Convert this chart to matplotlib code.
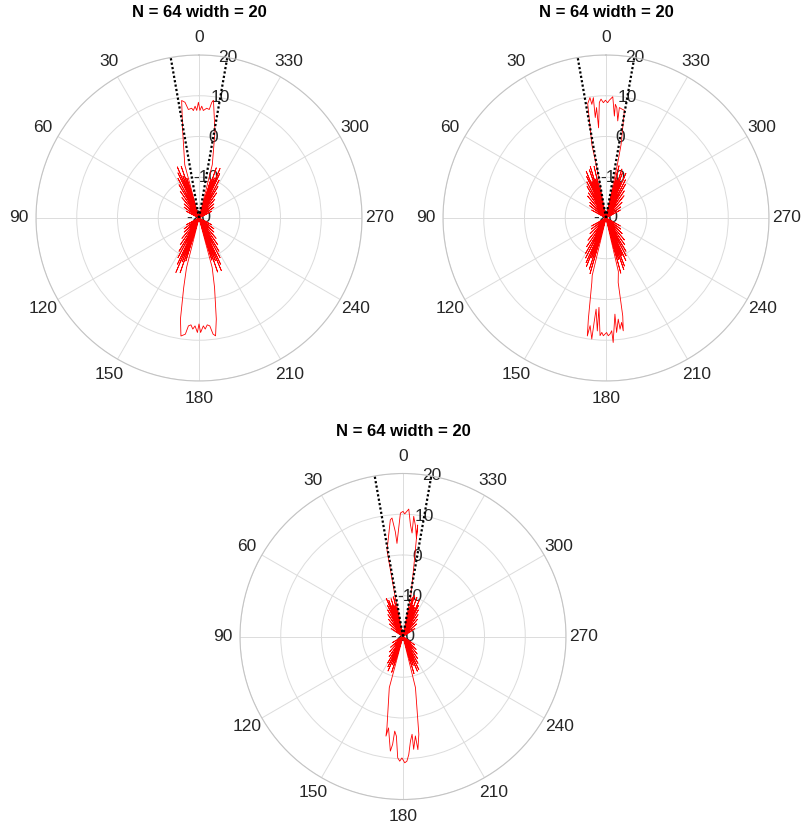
import numpy as np
import matplotlib.pyplot as plt

plt.rcParams['font.family'] = ['Liberation Sans', 'DejaVu Sans']

N_ELEM = 64
WIDTH = 20
R_TICKS = [-20, -10, 0, 10, 20]
THETA_TICKS = list(range(0, 360, 30))

# beam patterns as (angle deg, gain dB); nulls sit on the -20 dB floor
p1_front = [(-66, -20), (-62, -16.5), (-58, -20), (-54, -15.5), (-50, -20), (-46.5, -15),
            (-43, -20), (-40, -14), (-37.5, -20), (-35, -12.5), (-33, -20), (-31, -11),
            (-29.5, -20), (-28, -9.5), (-26.5, -20), (-25, -8), (-24, -20), (-23, -6.8),
            (-22, -20), (-21, -9.5), (-20, -20), (-19, -7), (-18, -20), (-17, -10),
            (-16, -20), (-14, -6.5), (-10.5, 1.5), (-7.0, 9.1), (-6.3, 8.55), (-5.4, 6.75),
            (-4.0, 7.0), (-2.3, 6.4), (-1.4, 7.45), (-0.5, 6.4), (0.3, 8.4), (1.2, 6.4),
            (2.0, 7.45), (3.0, 6.4), (3.8, 7.0), (5.6, 6.75), (6.9, 8.6), (8.4, 9.15),
            (10.7, 1.5), (15, -6.5), (16, -20), (17, -9.8), (18, -20), (19, -6.6), (20, -20),
            (21, -9), (22, -20), (23, -6.4), (24, -20), (25, -7.8), (26.5, -20), (28, -9),
            (29.5, -20), (31, -10.5), (33, -20), (35, -12), (37.5, -20), (40, -13.5),
            (43, -20), (46.5, -15), (50, -20), (54, -15.5), (58, -20), (62, -16.5), (66, -20)]
p1_back = [(114, -20), (118, -16.5), (122, -20), (126, -15.5), (130, -20), (133.5, -15),
           (137, -20), (140, -13.5), (142.5, -20), (145, -12), (147, -20), (149, -10.5),
           (150.5, -20), (152, -9), (153.5, -20), (155, -7.5), (156, -20), (157, -5.5),
           (158, -20), (159, -8.5), (160, -20), (161, -5.8), (162, -20), (163, -9), (164, -20),
           (165.9, -7.4), (167.6, -2.5), (169.6, 5.2), (171.3, 9.3), (173.3, 8.7), (174.4, 6.6),
           (175.7, 6.3), (176.8, 7.3), (177.9, 6.5), (179.2, 8.1), (180, 6.0), (180.8, 8.1),
           (182.3, 6.5), (183.2, 7.3), (184.4, 6.3), (185.7, 6.6), (186.9, 8.7), (188, 9.2),
           (189.7, 5.2), (192.6, -2.5), (194.9, -7.4), (196, -20), (197, -9.2), (198, -20),
           (199, -6), (200, -20), (201, -8.8), (202, -20), (203, -6), (204, -20), (205, -7.5),
           (206.5, -20), (208, -9), (209.5, -20), (211, -10.5), (213, -20), (215, -12),
           (217.5, -20), (220, -13.5), (223, -20), (226.5, -15), (230, -20), (234, -15.5),
           (238, -20), (242, -16.5), (246, -20)]

p2_front = [(-66, -20), (-61, -16), (-57, -20), (-53, -15.5), (-49, -20), (-45.5, -14.5),
            (-42, -20), (-39, -13), (-36.5, -20), (-34, -12), (-32, -20), (-30, -10.5),
            (-28.5, -20), (-27, -9.5), (-25.5, -20), (-24, -8), (-23, -20), (-22, -10.5),
            (-21, -20), (-20, -8.2), (-19, -20), (-18, -7.4), (-17, -20), (-16, -10.2),
            (-15, -20), (-14, -6.8), (-13, -20), (-12, -6.3), (-11.6, -1.6), (-9.7, 6.8),
            (-8.4, 7.0), (-6.9, 7.3), (-6.9, 4.0), (-5.6, 7.2), (-4.7, 8.0), (-4.7, 5.1),
            (-3.2, 9.8), (-1.6, 8.9), (-0.8, 8.3), (0.3, 8.9), (1.3, 8.3), (2.4, 9.2),
            (3.3, 8.4), (4.7, 2.2), (4.9, 7.2), (6.1, 4.8), (6.0, 9.7), (7.1, 8.1),
            (7.6, 9.8), (9.1, 8.4), (10.9, -1.7), (10.4, -6.4), (12, -20), (13, -7),
            (14, -20), (15, -10.2), (16, -20), (17, -6.8), (18, -20), (19, -7.5), (20, -20),
            (21, -10.4), (22, -20), (23, -7.6), (24, -20), (25, -8.8), (26.5, -20), (28, -10),
            (29.5, -20), (31, -11), (33, -20), (35, -12.5), (37.5, -20), (40, -13),
            (43, -20), (46, -14.5), (49.5, -20), (53, -15), (57, -20), (61, -16), (65, -20)]
p2_back = [(114, -20), (119, -16), (123, -20), (127, -15.5), (131, -20), (134.5, -14.5),
           (138, -20), (141, -13), (143.5, -20), (146, -11.5), (148, -20), (150, -10),
           (151.5, -20), (153, -9), (154.5, -20), (156, -8), (157, -20), (158, -7.2),
           (159, -20), (160, -9.6), (161, -20), (162, -6.8), (163, -20), (164, -5.8),
           (165, -20), (166.5, -5.5), (167.6, -3.8), (170.1, 5.2), (171.0, 9.3), (171.6, 6.7),
           (173.3, 9.9), (173.5, 5.8), (173.8, 2.5), (175.6, 7.8), (175.5, 2.0), (177.1, 8.9),
           (177.9, 8.1), (178.7, 8.9), (179.5, 8.5), (180.3, 8.1), (181.1, 8.9), (182.0, 8.5),
           (182.9, 7.7), (183.3, 10.6), (185.3, 3.7), (185.3, 8.2), (186.9, 5.0), (187.2, 7.5),
           (188.5, 5.9), (188.7, 8.0), (189.7, 4.4), (190.7, -3.9), (193, -6.5), (194, -20),
           (195, -6), (196, -20), (197, -9.4), (198, -20), (199, -6.6), (200, -20), (201, -7.4),
           (202, -20), (203, -10), (204, -20), (205, -8.5), (206.5, -20), (208, -9.5),
           (209.5, -20), (211, -10.5), (213, -20), (215, -12), (217.5, -20), (220, -13),
           (223, -20), (226, -14.5), (229.5, -20), (233, -15.5), (237, -20), (241, -16),
           (246, -20)]

p3_front = [(-61, -20), (-56, -16.5), (-51, -20), (-47, -15.5), (-43, -20), (-40, -14.5),
            (-37, -20), (-34.5, -13.5), (-32, -20), (-30, -12.5), (-28, -20), (-26.5, -11.5),
            (-25, -20), (-24.3, -10.2), (-22.5, -20), (-21.5, -12.4), (-20.5, -20),
            (-19.5, -9.8), (-18.5, -20), (-17.5, -12), (-16.5, -20), (-15.5, -9.6),
            (-14.5, -20), (-13.5, -10.2), (-12.5, -20), (-10.7, -9.3), (-8.8, -2.7),
            (-7.5, 7.6), (-7.8, 4.3), (-6.5, 7.2), (-5.1, 9.6), (-5.0, 5.5), (-3.8, 7.5),
            (-2.6, 11.3), (-0.8, 10.1), (0, 10.7), (1.2, 10.3), (2.3, 6.6), (3.7, 2.9),
            (4.2, 5.8), (5.3, 9.2), (6.2, 8.8), (10.5, 1.5), (11.1, -9.2), (12.5, -20),
            (13.5, -10), (14.5, -20), (15.5, -12.2), (16.5, -20), (17.5, -10.3), (18.5, -20),
            (19.5, -12), (20.5, -20), (21.5, -10.5), (22.5, -20), (23.7, -9.8), (25, -20),
            (26.5, -11.5), (28, -20), (30, -12.5), (32, -20), (34.5, -13.5), (37, -20),
            (40, -14.5), (43, -20), (47, -15.5), (51, -20), (56, -16.5), (61, -20)]
p3_back = [(114, -20), (120, -17), (126, -20), (131, -16), (135, -20), (139, -15),
           (142.5, -20), (145.5, -14), (148, -20), (150, -12.5), (152, -20), (153.5, -11.7),
           (155, -20), (156.5, -10.8), (158, -20), (159.5, -12.6), (161, -20), (162.5, -10.8),
           (164, -20), (165, -7.0), (170, 2.7), (170.3, 4.8), (171.0, 2.7), (173.7, 8.3),
           (174.5, 6.6), (175.0, 3.3), (176.2, 4.5), (177.5, 9.8), (178.5, 10.6), (179.5, 9.8),
           (180.8, 11.0), (181.8, 10.6), (182.8, 9.0), (184.1, 5.7), (185.3, 4.1), (185.4, 7.8),
           (187.1, 4.6), (187.5, 8.0), (189.2, 4.3), (193.7, -7.1), (195, -20), (196.5, -10.5),
           (198, -20), (199.5, -12.5), (201, -20), (202.5, -10.8), (204, -20), (205.5, -11),
           (207, -20), (209, -12.5), (211, -20), (213.5, -13.5), (216, -20), (219, -14.5),
           (222, -20), (225.5, -15.5), (229, -20), (234, -16.5), (240, -20), (246, -20)]

FIG_W, FIG_H = 808, 832
R_PX = 163
CENTERS = [(199, 218), (606, 218), (403, 636.5)]
PATTERNS = [(p1_front, p1_back), (p2_front, p2_back), (p3_front, p3_back)]

GRID_C = '#dcdcdc'
TEXT_C = '#262626'


def draw_pattern(ax, front, back):
    pts = np.array(front + back, dtype=float)
    theta = np.deg2rad(pts[:, 0])
    gain = np.clip(pts[:, 1], R_TICKS[0], R_TICKS[-1])
    ax.plot(theta, gain, color='red', lw=0.6, zorder=3)

    # beam edges at +/- width/2
    for edge in (-WIDTH / 2, WIDTH / 2):
        ax.plot(np.deg2rad([edge, edge]), [R_TICKS[0], R_TICKS[-1]],
                color='black', lw=1.6, ls=(0, (1, 1)), zorder=4)

    ax.set_theta_zero_location('N')
    ax.set_theta_direction(1)
    ax.set_rlim(R_TICKS[0], R_TICKS[-1])
    ax.set_thetagrids(THETA_TICKS, labels=[str(t) for t in THETA_TICKS])
    ax.set_rgrids(R_TICKS, labels=[str(r) for r in R_TICKS], angle=-10)
    ax.tick_params(axis='x', labelsize=12.5, labelcolor=TEXT_C, pad=2)
    ax.tick_params(axis='y', labelsize=12.5, labelcolor=TEXT_C, pad=0)
    for lbl in ax.get_yticklabels():
        lbl.set_ha('center')
        lbl.set_va('center')
    ax.grid(True, color=GRID_C, lw=0.7)
    ax.spines['polar'].set_color('#c4c4c4')
    ax.spines['polar'].set_linewidth(0.8)
    ax.set_title(f"N = {N_ELEM} width = {WIDTH}", fontsize=12, fontweight='bold',
                 y=1.13, va='center', pad=0)


fig = plt.figure(figsize=(FIG_W / 100, FIG_H / 100), dpi=100)
for (cx, cy), (front, back) in zip(CENTERS, PATTERNS):
    rect = [(cx - R_PX) / FIG_W, (FIG_H - cy - R_PX) / FIG_H,
            2 * R_PX / FIG_W, 2 * R_PX / FIG_H]
    ax = fig.add_axes(rect, projection='polar')
    draw_pattern(ax, front, back)

fig.savefig('out.png', dpi=100, facecolor='white')
